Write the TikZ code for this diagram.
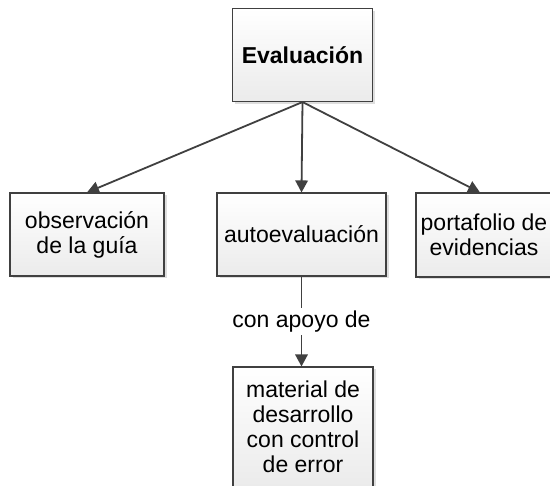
\documentclass[tikz,border=0pt]{standalone}
\usepackage{fontspec}
\setmainfont{Liberation Sans}
\usetikzlibrary{shadows,arrows.meta}
\definecolor{lineC}{HTML}{404040}
\definecolor{boxB}{HTML}{EBEBEB}
\tikzset{
  box/.style={draw=lineC, line width=1.1pt, top color=white, bottom color=boxB,
    align=center, inner sep=0pt, font=\fontsize{23}{25}\selectfont,
    drop shadow={shadow xshift=2.5pt, shadow yshift=-2.5pt, fill=black!18, opacity=0.7}},
  conn/.style={draw=lineC, line width=1.8pt, -{Triangle[length=12pt,width=12.5pt]}},
  lbl/.style={fill=white, inner sep=3pt, font=\fontsize{23}{25}\selectfont}
}
\begin{document}
\begin{tikzpicture}[x=1pt,y=-1pt]
\useasboundingbox (0,0) rectangle (550,486);
\clip (0,0) rectangle (550,486);
\fill[white] (0,0) rectangle (550,486);
\node[box, minimum width=140pt, minimum height=93pt] (eval) at (302.5,55) {\textbf{Evaluación}};
\node[box, minimum width=154pt, minimum height=83pt] (obs) at (87,234.5) {observación\\de la guía};
\node[box, minimum width=169pt, minimum height=83pt] (auto) at (301.5,234.5) {autoevaluación};
\node[box, minimum width=136pt, minimum height=84pt] (port) at (484,235) {portafolio de\\evidencias};
\node[box, minimum width=140pt, minimum height=120pt] (mat) at (303,427) {material de\\desarrollo\\con control\\de error};
\draw[conn] (eval.south) -- (obs.north);
\draw[conn] (eval.south) -- (auto.north);
\draw[conn] (eval.south) -- ([xshift=-4pt]port.north);
\draw[conn] (auto.south) -- node[lbl] (lab) {con apoyo de} (auto.south |- mat.north);
\end{tikzpicture}
\end{document}
